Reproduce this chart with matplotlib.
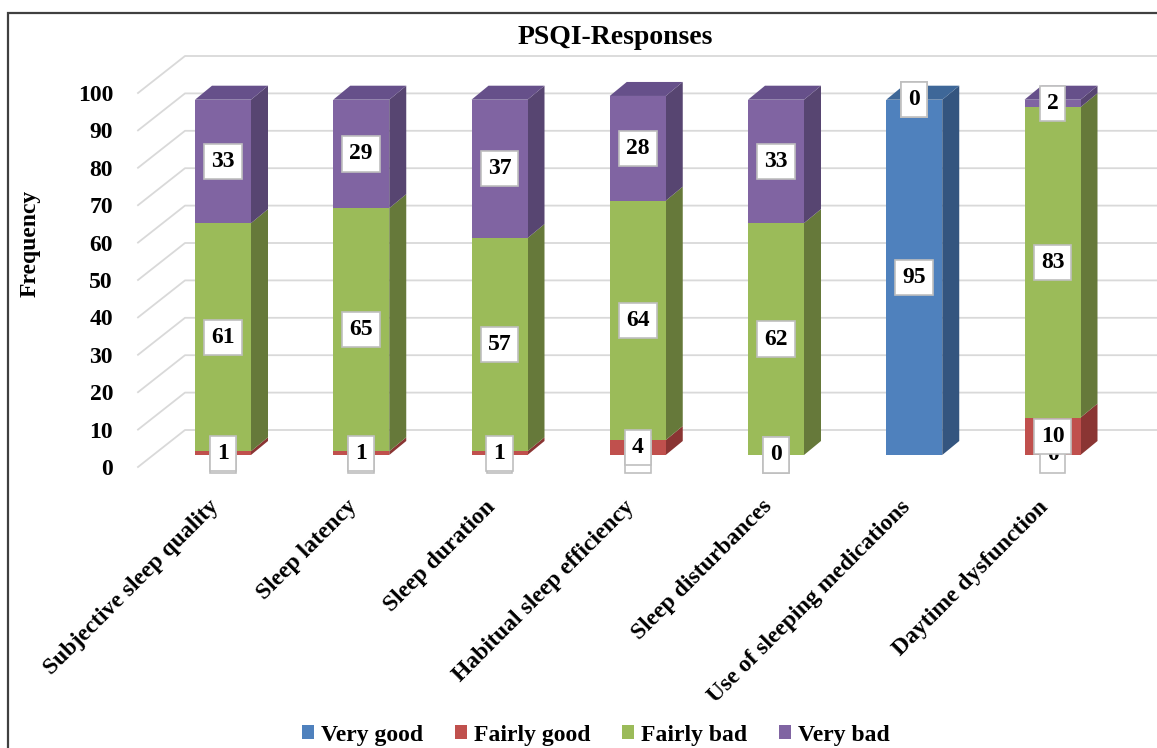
import matplotlib
matplotlib.use("Agg")
import matplotlib.pyplot as plt
from matplotlib.patches import Polygon, Rectangle, Patch

# ---- data -------------------------------------------------------------
categories = [
    "Subjective sleep quality",
    "Sleep latency",
    "Sleep duration",
    "Habitual sleep efficiency",
    "Sleep disturbances",
    "Use of sleeping medications",
    "Daytime dysfunction",
]
series_names = ["Very good", "Fairly good", "Fairly bad", "Very bad"]
very_good = [0, 0, 0, 0, 0, 95, 0]
fairly_good = [1, 1, 1, 4, 0, 0, 10]
fairly_bad = [61, 65, 57, 64, 62, 0, 83]
very_bad = [33, 29, 37, 28, 33, 0, 2]
y_ticks = [0, 10, 20, 30, 40, 50, 60, 70, 80, 90, 100]

# ---- style ------------------------------------------------------------
front_colors = ["#4F81BD", "#C0504D", "#9BBB59", "#8064A2"]
side_colors = ["#34557F", "#8A3533", "#66793A", "#574571"]
top_colors = ["#3E6798", "#A04340", "#7E9A47", "#66508A"]
grid_color = "#D9D9D9"
fs = 17

plt.rcParams["font.family"] = ["Liberation Serif", "DejaVu Serif"]
plt.rcParams["font.weight"] = "bold"

W, H = 1157, 748
fig = plt.figure(figsize=(W / 100, H / 100), dpi=100)

# pixel frame of the drawing: first category centre, spacing, zero line, scale
X0, DXC = 223.0, 138.25
Y0, DYV = 455.0, 3.74
ax_left_px, ax_bottom_px = 120, 480
ax = fig.add_axes([ax_left_px / W, 1 - ax_bottom_px / H,
                   (W - ax_left_px) / W, ax_bottom_px / H])
ax.set_xlim((ax_left_px - X0) / DXC, (W - X0) / DXC)
ax.set_ylim((Y0 - ax_bottom_px) / DYV, Y0 / DYV)
for s in ax.spines.values():
    s.set_visible(False)

# 3D look: bar depth, and offsets of the floor front edge / back wall
bar_w = 56 / DXC
depth_dx, depth_dy = 17 / DXC, 14 / DYV
front_dy = (Y0 - 467) / DYV
back_dy = (Y0 - 430) / DYV
wall_front_x = (138 - X0) / DXC
wall_back_x = (185 - X0) / DXC
label_dx = -7 / DXC

# gridlines on the side wall and back wall
x_right = ax.get_xlim()[1]
for v in y_ticks:
    ax.plot([wall_front_x, wall_back_x, x_right],
            [v + front_dy, v + back_dy, v + back_dy],
            color=grid_color, lw=1.3, zorder=1, clip_on=False)

# stacked 3D columns
xs = list(range(len(categories)))
all_series = [very_good, fairly_good, fairly_bad, very_bad]
bottoms = [0.0] * len(categories)
for si, vals in enumerate(all_series):
    ax.bar(xs, vals, bottom=bottoms, width=bar_w, color=front_colors[si],
           linewidth=0, zorder=3)
    for i, (b, h) in enumerate(zip(bottoms, vals)):
        if h <= 0:
            continue
        xr = xs[i] + bar_w / 2
        side = Polygon([(xr, b), (xr + depth_dx, b + depth_dy),
                        (xr + depth_dx, b + h + depth_dy), (xr, b + h)],
                       closed=True, fc=side_colors[si], lw=0, zorder=2.5)
        ax.add_patch(side)
    bottoms = [b + h for b, h in zip(bottoms, vals)]

# top faces, coloured after the highest non-empty segment
for i in xs:
    top_si = max(si for si, vals in enumerate(all_series) if vals[i] > 0)
    t = bottoms[i]
    xl, xr = xs[i] - bar_w / 2, xs[i] + bar_w / 2
    ax.add_patch(Polygon([(xl, t), (xl + depth_dx, t + depth_dy),
                          (xr + depth_dx, t + depth_dy), (xr, t)],
                         closed=True, fc=top_colors[top_si], lw=0, zorder=2.6))

# value labels at the centre of every segment's front face
bottoms = [0.0] * len(categories)
for si, vals in enumerate(all_series):
    for i, (b, h) in enumerate(zip(bottoms, vals)):
        ax.text(xs[i], b + h / 2, str(h), ha="center", va="center",
                fontsize=fs, fontweight="bold", color="black", zorder=5 + si,
                bbox=dict(boxstyle="square,pad=0.3", fc="white",
                          ec="#BFBFBF", lw=1.2))
    bottoms = [b + h for b, h in zip(bottoms, vals)]

# axes ticks: values along the front floor edge, categories below it
ax.set_yticks([v + front_dy for v in y_ticks])
ax.set_yticklabels([str(v) for v in y_ticks], fontsize=fs, fontweight="bold")
ax.set_xticks([x + label_dx for x in xs])
ax.set_xticklabels(categories, rotation=45, ha="right", va="center",
                   rotation_mode="anchor", fontsize=fs, fontweight="bold")
ax.tick_params(axis="y", length=0, pad=5)
ax.tick_params(axis="x", length=0, pad=17)

# title, axis title, legend, frame
fig.text(615.5 / W, 1 - 37 / H, "PSQI-Responses", ha="center", va="center",
         fontsize=20, fontweight="bold")
fig.text(30 / W, 1 - 243 / H, "Frequency", ha="center", va="center",
         rotation=90, fontsize=fs, fontweight="bold")
handles = [Patch(facecolor=c, edgecolor="none") for c in front_colors]
fig.legend(handles, series_names, loc="center", ncol=4,
           bbox_to_anchor=(596 / W, 1 - 735 / H), frameon=False,
           prop={"size": fs, "weight": "bold"}, handlelength=0.5,
           handleheight=0.5, handletextpad=0.3, columnspacing=1.35)
fig.add_artist(Rectangle((8 / W, -0.05), 1.1, 1 - 13 / H + 0.05,
                         transform=fig.transFigure, fill=False,
                         ec="#404040", lw=1.6, clip_on=False))

fig.savefig("out.png", dpi=100)
